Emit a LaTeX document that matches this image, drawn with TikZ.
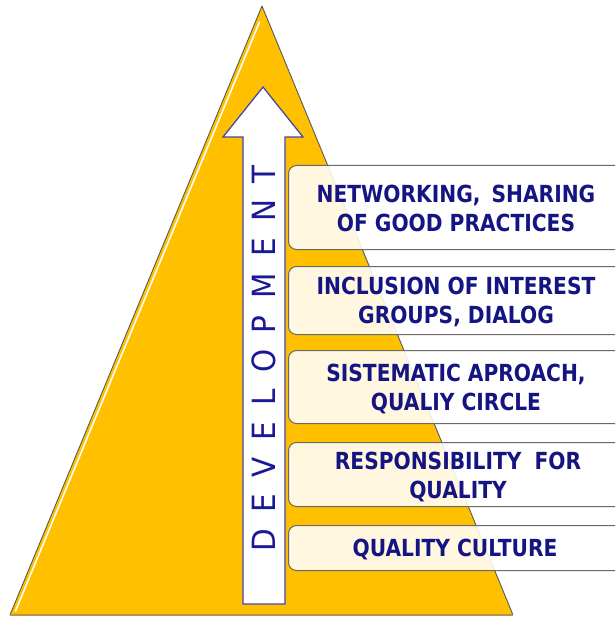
\documentclass[tikz,border=0pt]{standalone}
\usepackage{fontspec}
\setmainfont{DejaVu Sans}
\newfontfamily\boxfont{DejaVu Sans Bold}[FakeStretch=0.86]
\newfontfamily\devfont{DejaVu Sans}[FakeStretch=0.92]
\definecolor{gold}{RGB}{255,192,0}
\definecolor{navy}{RGB}{20,20,130}
\definecolor{devblue}{RGB}{25,25,150}
\definecolor{arrowline}{RGB}{70,70,170}
\definecolor{boxline}{RGB}{105,105,105}
\tikzset{
  levelbox/.style={draw=boxline, line width=1pt, fill=white, fill opacity=0.88,
    rounded corners=8pt, minimum width=360pt, anchor=north west, inner sep=0pt},
  leveltext/.style={text=navy, font=\boxfont\fontsize{23.5}{29}\selectfont, align=center, inner sep=0pt},
}
\newcommand{\gapD}{\hspace{16.5pt}}
\begin{document}
\begin{tikzpicture}[x=1pt,y=-1pt]
\clip (0,0) rectangle (615,617);
% pyramid
\fill[gold] (10,615) -- (262,6) -- (513,615) -- cycle;
\draw[gray!70!black, line width=0.9pt, line join=round] (10,615) -- (262,6) -- (513,615);
\draw[color={rgb,255:red,185;green,150;blue,70}, line width=1.2pt] (10,615) -- (513,615);
\draw[white, line width=1.6pt, line cap=round] (259.5,22) -- (15.5,611);
% arrow
\draw[arrowline, fill=white, line width=1.3pt, line join=miter]
  (243,604) -- (243,137) -- (223,137) -- (263,87) -- (303,137) -- (285,137) -- (285,604) -- cycle;
\node[rotate=90, inner sep=0pt, text=devblue, font=\devfont\fontsize{32}{32}\selectfont] (dev) at (263.5,358.5)
  {D\gapD E\gapD V\gapD E\gapD L\gapD O\gapD P\gapD M\gapD E\gapD N\gapD T};
% boxes
\node[levelbox, minimum height=84pt] (b1) at (288,165) {};
\node[levelbox, minimum height=68pt] (b2) at (288,266) {};
\node[levelbox, minimum height=73pt] (b3) at (288,350) {};
\node[levelbox, minimum height=64pt] (b4) at (288,442) {};
\node[levelbox, minimum height=45pt] (b5) at (288,525) {};
\node[leveltext] (t1) at (456,208.5) {NETWORKING,\hspace{4pt} SHARING\\OF GOOD PRACTICES};
\node[leveltext] (t2) at (456,301.5) {INCLUSION OF INTEREST\\GROUPS, DIALOG};
\node[leveltext] (t3) at (456,388.5) {SISTEMATIC APROACH,\\QUALIY CIRCLE};
\node[leveltext] (t4) at (458,476.5) {RESPONSIBILITY\hspace{6pt} FOR\\QUALITY};
\node[leveltext] (t5) at (455,549) {QUALITY CULTURE};
\end{tikzpicture}
\end{document}
